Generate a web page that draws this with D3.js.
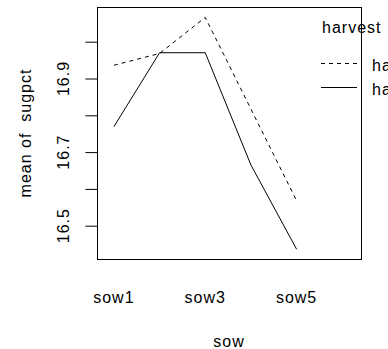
<!DOCTYPE html>
<html>
<head>
<meta charset="utf-8">
<script src="https://cdn.jsdelivr.net/npm/d3@7"></script>
<style>
  body { margin: 0; background: #fff; }
  svg { display: block; font-family: "Liberation Sans", Arial, sans-serif; }
  svg text { letter-spacing: 1px; }
</style>
</head>
<body>
<div id="chart"></div>
<script>
const W = 388, H = 349;

// sow levels on the x axis
const sows = ['sow1', 'sow2', 'sow3', 'sow4', 'sow5'];
// only every other label fits, as in the original
const sowLabels = ['sow1', 'sow3', 'sow5'];

// mean sugpct per harvest level (legend order: dashed first)
const harvests = ['harv2', 'harv1'];
const harv2 = [16.936, 16.968, 17.066, 16.817, 16.568];
const harv1 = [16.769, 16.970, 16.970, 16.665, 16.436];
const dashes = ['4,4', null];

const yTicks = [16.5, 16.6, 16.7, 16.8, 16.9, 17.0];
const yLabels = [16.5, 16.7, 16.9];

const box = { left: 97, right: 361, top: 7, bottom: 259 };

const x = d3.scaleLinear()
  .domain([0.63, 6.41])
  .range([box.left, box.right]);

const y = d3.scaleLinear()
  .domain([16.4095, 17.0943])
  .range([box.bottom, box.top]);

const svg = d3.select('#chart')
  .append('svg')
  .attr('width', W)
  .attr('height', H);

// traces
const line = d3.line()
  .x((d, i) => x(i + 1))
  .y(d => y(d));

[harv2, harv1].forEach((vals, k) => {
  svg.append('path')
    .datum(vals)
    .attr('d', line)
    .attr('fill', 'none')
    .attr('stroke', '#000')
    .attr('stroke-width', 1)
    .attr('stroke-dasharray', dashes[k]);
});

// plot frame
svg.append('rect')
  .attr('x', box.left + 0.5)
  .attr('y', box.top + 0.5)
  .attr('width', box.right - box.left)
  .attr('height', box.bottom - box.top)
  .attr('fill', 'none')
  .attr('stroke', '#000');

// y axis ticks
const yAxis = d3.axisLeft(y)
  .tickValues(yTicks)
  .tickSizeInner(12)
  .tickSizeOuter(0);

const ya = svg.append('g')
  .attr('transform', `translate(${box.left + 0.5},0)`)
  .call(yAxis);
ya.select('.domain').remove();
ya.selectAll('text').remove();

svg.selectAll('.ylab')
  .data(yLabels)
  .enter()
  .append('text')
  .attr('class', 'ylab')
  .attr('transform', d => `translate(69,${y(d)}) rotate(-90)`)
  .attr('text-anchor', 'middle')
  .attr('font-size', 16)
  .text(d => d3.format('.1f')(d));

// x labels (no ticks)
svg.selectAll('.xlab')
  .data(sowLabels)
  .enter()
  .append('text')
  .attr('class', 'xlab')
  .attr('x', d => x(sows.indexOf(d) + 1))
  .attr('y', 303)
  .attr('text-anchor', 'middle')
  .attr('font-size', 16)
  .text(d => d);

// axis titles
svg.append('text')
  .attr('x', (box.left + box.right) / 2)
  .attr('y', 347)
  .attr('text-anchor', 'middle')
  .attr('font-size', 16)
  .text('sow');

svg.append('text')
  .attr('transform', `translate(31,${(box.top + box.bottom) / 2}) rotate(-90)`)
  .attr('text-anchor', 'middle')
  .attr('font-size', 16)
  .style('white-space', 'pre')
  .text('mean of  sugpct');

// legend
svg.append('text')
  .attr('x', 322)
  .attr('y', 33)
  .attr('font-size', 16)
  .text('harvest');

const leg = svg.selectAll('.leg')
  .data(harvests)
  .enter()
  .append('g')
  .attr('class', 'leg')
  .attr('transform', (d, i) => `translate(0,${63.5 + i * 24})`);

leg.append('line')
  .attr('x1', 321)
  .attr('x2', 357)
  .attr('stroke', '#000')
  .attr('stroke-dasharray', (d, i) => dashes[i]);

leg.append('text')
  .attr('x', 372)
  .attr('y', 7)
  .attr('font-size', 16)
  .text(d => d);
</script>
</body>
</html>
